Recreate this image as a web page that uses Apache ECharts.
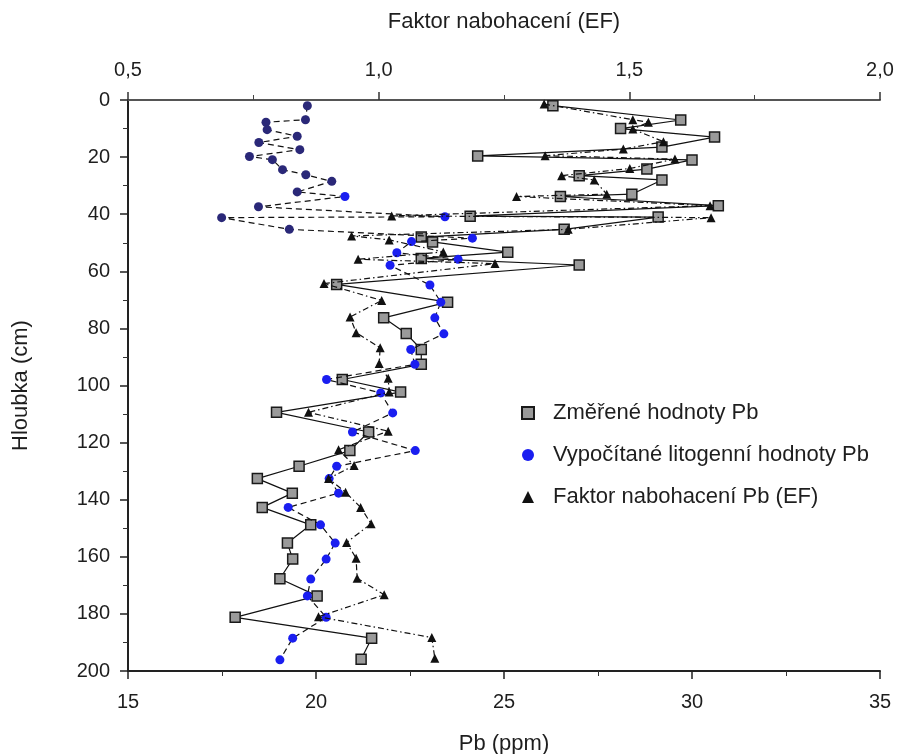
<!DOCTYPE html>
<html>
<head>
<meta charset="utf-8">
<script src="https://cdn.jsdelivr.net/npm/echarts@6/dist/echarts.min.js"></script>
<style>
html,body{margin:0;padding:0;background:#fff;}
#chart{width:907px;height:754px;}
</style>
</head>
<body>
<div id="chart"></div>
<script>
// ---- data ----
const seriesNames = ['Změřené hodnoty Pb', 'Vypočítané litogenní hodnoty Pb', 'Faktor nabohacení Pb (EF)'];

const measDepth = [2, 7, 10, 13, 16.5, 19.6, 21, 24.2, 26.5, 28, 33, 33.8, 37, 40.7, 41, 45.3, 48, 49.7, 53.3, 55.5, 57.8, 64.6, 70.8, 76.3, 81.8, 87.4, 92.6, 97.9, 102.3, 109.4, 116.3, 122.8, 128.3, 132.6, 137.7, 142.7, 148.8, 155.2, 160.8, 167.7, 173.7, 181.2, 188.5, 195.9];
const measPb = [26.3, 29.7, 28.1, 30.6, 29.2, 24.3, 30.0, 28.8, 27.0, 29.2, 28.4, 26.5, 30.7, 24.1, 29.1, 26.6, 22.8, 23.1, 25.1, 22.8, 27.0, 20.55, 23.5, 21.8, 22.4, 22.8, 22.8, 20.7, 22.25, 18.95, 21.4, 20.9, 19.55, 18.44, 19.37, 18.57, 19.86, 19.24, 19.38, 19.04, 20.03, 17.85, 21.48, 21.2];

const litoDepth = [2, 6.9, 7.8, 10.4, 12.7, 14.9, 17.4, 19.8, 20.9, 24.4, 26.2, 28.5, 32.2, 33.8, 37.4, 40.9, 41.2, 45.3, 48.4, 49.6, 53.5, 55.8, 57.9, 64.8, 70.8, 76.3, 81.9, 87.4, 92.6, 97.9, 102.6, 109.6, 116.3, 122.8, 128.3, 132.6, 137.7, 142.7, 148.8, 155.2, 160.8, 167.8, 173.7, 181.2, 188.5, 196.1];
const litoPb = [19.77, 19.72, 18.67, 18.70, 19.50, 18.48, 19.57, 18.23, 18.84, 19.11, 19.73, 20.42, 19.50, 20.77, 18.47, 23.43, 17.49, 19.29, 24.16, 22.54, 22.15, 23.78, 21.97, 23.03, 23.32, 23.16, 23.40, 22.52, 22.63, 20.28, 21.72, 22.04, 20.97, 22.64, 20.55, 20.35, 20.6, 19.26, 20.12, 20.51, 20.27, 19.86, 19.77, 20.27, 19.38, 19.04];

const efDepth = [1.4, 6.9, 7.8, 10.2, 14.6, 17.2, 19.5, 20.7, 24, 26.5, 28, 33, 33.8, 37, 40.6, 41.2, 45.3, 47.6, 49, 53.2, 55.8, 57.3, 64.3, 70.2, 76, 81.5, 86.8, 92.3, 97.5, 102.3, 109.4, 116, 122.5, 128, 132.6, 137.4, 142.7, 148.4, 155, 160.5, 167.5, 173.3, 181, 188.3, 195.5];
const efVal = [1.33, 1.507, 1.538, 1.507, 1.568, 1.488, 1.332, 1.591, 1.501, 1.365, 1.43, 1.455, 1.275, 1.661, 1.026, 1.663, 1.378, 0.946, 1.021, 1.129, 0.959, 1.232, 0.891, 1.006, 0.943, 0.955, 1.003, 1.001, 1.019, 1.021, 0.86, 1.019, 0.92, 0.951, 0.90, 0.934, 0.964, 0.985, 0.936, 0.955, 0.957, 1.011, 0.88, 1.106, 1.112];

// ---- chart ----
const zip = (xs, ys) => xs.map((x, i) => [x, ys[i]]);
const FONT = '"Liberation Sans", Arial, sans-serif';
const TXT = '#1e1e1e';
const comma = v => v.toFixed(1).replace('.', ',');

const chart = echarts.init(document.getElementById('chart'), null, {renderer: 'canvas'});
chart.setOption({
  animation: false,
  backgroundColor: '#ffffff',
  textStyle: {fontFamily: FONT, color: TXT},
  grid: {left: 128, right: 27, top: 100, bottom: 83, containLabel: false, outerBoundsMode: 'none'},
  legend: {
    orient: 'vertical',
    left: 516, top: 397,
    itemWidth: 12, itemHeight: 12, itemGap: 20,
    textStyle: {fontFamily: FONT, fontSize: 22, color: TXT, padding: [0, 0, 0, 14]},
    data: [
      {name: seriesNames[0], icon: 'rect'},
      {name: seriesNames[1], icon: 'circle', itemStyle: {color: '#1a1ef0'}},
      {name: seriesNames[2], icon: 'triangle'}
    ]
  },
  xAxis: [
    {
      type: 'value', position: 'bottom', min: 15, max: 35, interval: 5,
      name: 'Pb (ppm)', nameLocation: 'middle', nameGap: 62,
      nameTextStyle: {fontFamily: FONT, fontSize: 22, color: TXT},
      axisLine: {onZero: false, lineStyle: {color: '#222', width: 2}},
      axisTick: {length: 8, lineStyle: {color: '#222', width: 1.5}},
      minorTick: {show: true, splitNumber: 2, length: 5, lineStyle: {color: '#333', width: 1}},
      axisLabel: {margin: 21, fontSize: 20, color: TXT, fontFamily: FONT},
      splitLine: {show: false}
    },
    {
      type: 'value', position: 'top', min: 0.5, max: 2.0, interval: 0.5,
      name: 'Faktor nabohacení (EF)', nameLocation: 'middle', nameGap: 67,
      nameTextStyle: {fontFamily: FONT, fontSize: 22, color: TXT},
      axisLine: {onZero: false, lineStyle: {color: '#555', width: 2}},
      axisTick: {length: 8, lineStyle: {color: '#333', width: 1.5}},
      minorTick: {show: true, splitNumber: 2, length: 5, lineStyle: {color: '#444', width: 1}},
      axisLabel: {margin: 20, fontSize: 20, color: TXT, fontFamily: FONT, formatter: comma},
      splitLine: {show: false}
    }
  ],
  yAxis: {
    type: 'value', inverse: true, min: 0, max: 200, interval: 20,
    name: 'Hloubka (cm)', nameLocation: 'middle', nameGap: 96,
    nameTextStyle: {fontFamily: FONT, fontSize: 22, color: TXT},
    axisLine: {onZero: false, lineStyle: {color: '#222', width: 2}},
    axisTick: {length: 8, lineStyle: {color: '#222', width: 1.5}},
    minorTick: {show: true, splitNumber: 2, length: 5, lineStyle: {color: '#333', width: 1}},
    axisLabel: {margin: 18, fontSize: 20, color: TXT, fontFamily: FONT},
    splitLine: {show: false}
  },
  series: [
    {
      name: seriesNames[0], type: 'line', xAxisIndex: 0,
      data: zip(measPb, measDepth),
      symbol: 'rect', symbolSize: 10,
      itemStyle: {color: '#9a9a9a', borderColor: '#1a1a1a', borderWidth: 1.5},
      lineStyle: {color: '#111', width: 1.2, type: 'solid'},
      z: 3
    },
    {
      name: seriesNames[1], type: 'line', xAxisIndex: 0,
      data: zip(litoPb, litoDepth),
      symbol: 'circle', symbolSize: 9,
      itemStyle: {
        color: p => (p.value[1] < 46 && p.value[0] < 20.6) ? '#2a2878' : '#1a1ef0',
        borderWidth: 0
      },
      lineStyle: {color: '#111', width: 1.2, type: [6, 4]},
      z: 4
    },
    {
      name: seriesNames[2], type: 'line', xAxisIndex: 1,
      data: zip(efVal, efDepth),
      symbol: 'triangle', symbolSize: 9,
      itemStyle: {color: '#111', borderWidth: 0},
      lineStyle: {color: '#111', width: 1.2, type: [6, 3, 1.5, 3]},
      z: 5
    }
  ]
});
</script>
</body>
</html>
